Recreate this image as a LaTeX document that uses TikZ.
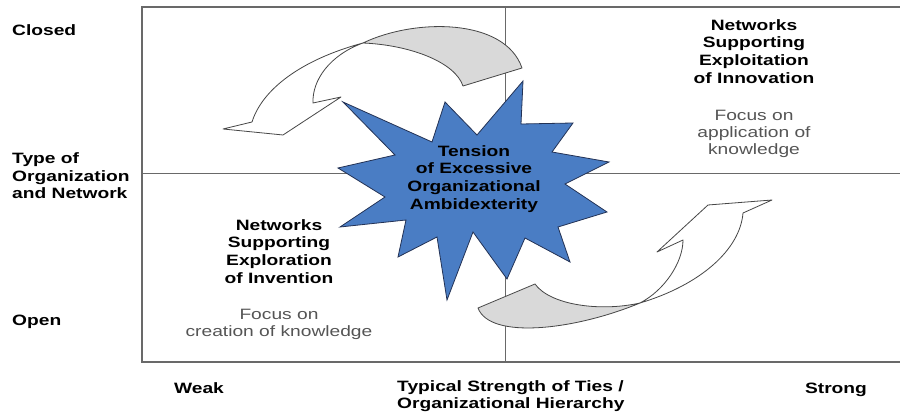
\documentclass[tikz,border=0pt]{standalone}
\usepackage{fontspec}
\setmainfont{Liberation Sans}[FakeStretch=1.28]
\definecolor{framegray}{RGB}{105,105,105}
\definecolor{arrowgray}{RGB}{70,70,70}
\definecolor{bandgray}{RGB}{217,217,217}
\definecolor{burstblue}{RGB}{74,125,196}
\definecolor{burstedge}{RGB}{35,50,85}
\definecolor{focusgray}{RGB}{85,85,85}
\begin{document}
\begin{tikzpicture}[x=1pt,y=-1pt,
  lbl/.style={font=\bfseries\fontsize{15}{17.5}\selectfont, inner sep=0pt, text=black},
  ttl/.style={font=\bfseries\fontsize{15}{17.8}\selectfont, align=center, inner sep=0pt, text=black},
  fcs/.style={font=\fontsize{15}{17}\selectfont, align=center, inner sep=0pt, text=focusgray},
  frameline/.style={draw=framegray, line width=1.3pt},
  band/.style={draw=arrowgray, line width=0.8pt, line join=round},
  burst/.style={fill=burstblue, draw=burstedge, line width=0.8pt, line join=miter}]
\useasboundingbox (0,0) rectangle (900,419);
\fill[white] (0,0) rectangle (900,419);

% frame and quadrant lines
\draw[frameline] (900,7) -- (142,7) -- (142,362) -- (900,362);
\draw[frameline, line width=1pt] (142,174) -- (900,174);
\draw[frameline, line width=1pt] (505,7) -- (505,362);

% upper curved arrow
\filldraw[band, fill=bandgray] (522,68) .. controls (505,18) and (415,18) .. (363,43)
   .. controls (410,45) and (455,62) .. (463,86) -- cycle;
\filldraw[band, fill=white] (363,43) .. controls (300,60) and (262,90) .. (252,122)
   -- (223,129) -- (283,135) -- (341,97) -- (313,103)
   .. controls (312,80) and (330,55) .. cycle;

% lower curved arrow
\filldraw[band, fill=bandgray] (478,308) -- (535,284) .. controls (550,305) and (600,312) .. (640,303)
   .. controls (575,330) and (490,340) .. cycle;
\filldraw[band, fill=white] (640,303) .. controls (665,290) and (683,262) .. (683,240)
   -- (657,252) -- (708,205) -- (772,200) -- (743,213)
   .. controls (740,250) and (700,285) .. cycle;

% starburst
\filldraw[burst] (343,102) -- (432,142) -- (445,102) -- (477,135) -- (523,81) -- (521,124)
  -- (573,123) -- (552,152) -- (609,162) -- (565,184) -- (607,212) -- (558,227)
  -- (570,262) -- (525,238) -- (507,279) -- (473,232) -- (447,300) -- (437,237)
  -- (398,257) -- (406,220) -- (340,227) -- (385,197) -- (338,168) -- (395,155) -- cycle;
\node[ttl] (tension) at (474,179) {Tension\\of Excessive\\Organizational\\Ambidexterity};

% axis labels
\node[lbl, anchor=base west] (closed) at (12,36) {Closed};
\node[lbl, anchor=west, align=left] (typeof) at (12,176) {Type of\\Organization\\and Network};
\node[lbl, anchor=base west] (open) at (12,326) {Open};
\node[lbl, anchor=base] (weak) at (199,394) {Weak};
\node[lbl, anchor=north west, align=left] (axis) at (397,380) {Typical Strength of Ties /\\Organizational Hierarchy};
\node[lbl, anchor=base] (strong) at (836,394) {Strong};

% quadrant texts
\node[ttl] (exploitT) at (754,51.5) {Networks\\Supporting\\Exploitation\\of Innovation};
\node[fcs] (exploitF) at (754,133.5) {Focus on\\application of\\knowledge};
\node[ttl] (exploreT) at (279,251.5) {Networks\\Supporting\\Exploration\\of Invention};
\node[fcs] (exploreF) at (279,324) {Focus on\\creation of knowledge};
\end{tikzpicture}
\end{document}
